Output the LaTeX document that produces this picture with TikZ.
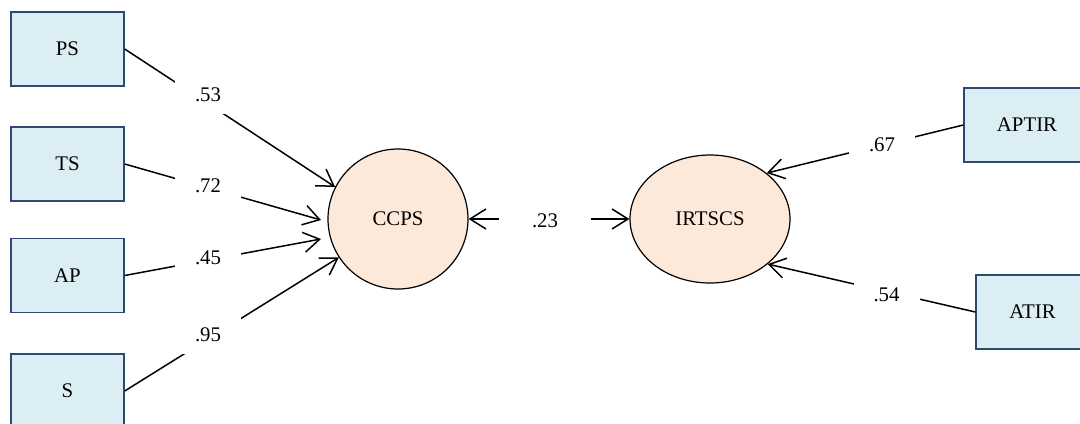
\documentclass[tikz,border=0pt]{standalone}
\usepackage{fontspec}
\setmainfont{Liberation Serif}
\usepackage{xcolor}
\usepackage{tikz}
\usetikzlibrary{calc, positioning, arrows.meta, shapes.geometric}
\definecolor{obsfill}{HTML}{DAEEF3}
\definecolor{obsdraw}{HTML}{2E4A72}
\definecolor{latfill}{HTML}{FDE9D9}
\tikzset{
    obs/.style={rectangle, draw=obsdraw, line width=0.7pt, fill=obsfill, minimum width=56.5pt, minimum height=37pt, align=center, font=\fontsize{10.4}{12}\selectfont},
    latent/.style={ellipse, draw=black, line width=0.6pt, fill=latfill, inner sep=0pt, font=\fontsize{10.4}{12}\selectfont},
    coef/.style={rectangle, fill=white, inner sep=0pt, minimum width=33pt, minimum height=19pt, font=\fontsize{10.4}{12}\selectfont},
    path/.style={line width=0.75pt, -{Straight Barb[length=8pt, width=10pt]}}
}
\begin{document}
\begin{tikzpicture}[x=0.5pt, y=-0.5pt]
    \useasboundingbox (0,0) rectangle (1080,423);

    % Indicators of CCPS
    \node[obs] (PS) at (67.5,49) {PS};
    \node[obs] (TS) at (67.5,164) {TS};
    \node[obs] (AP) at (67.5,275.5) {AP};
    \node[obs] (S)  at (67.5,391) {S};

    % Latent variables
    \node[latent, minimum width=70pt, minimum height=70pt] (CCPS) at (398,219) {CCPS};
    \node[latent, minimum width=80pt, minimum height=64pt] (IRTSCS) at (710,219) {IRTSCS};

    % Indicators of IRTSCS
    \node[obs, minimum width=63pt] (APTIR) at (1027,125) {APTIR};
    \node[obs] (ATIR) at (1032.5,312) {ATIR};

    \coordinate (inTS) at (321,220);
    \coordinate (inAP) at (321,239);

    % Paths
    \draw[path] (PS.east) -- (CCPS.153);
    \draw[path] (TS.east) -- (inTS);
    \draw[path] (AP.east) -- (inAP);
    \draw[path] (S.east) -- (CCPS.213);
    \draw[path] (APTIR.west) -- (IRTSCS.39);
    \draw[path] (ATIR.west) -- (IRTSCS.-38);
    \draw[path, {Straight Barb[length=8pt, width=10pt]}-{Straight Barb[length=8pt, width=10pt]}] (CCPS) -- (IRTSCS);

    % Loadings
    \node[coef] (c53) at (208,95) {.53};
    \node[coef] (c72) at (208,185.5) {.72};
    \node[coef] (c45) at (208,257.5) {.45};
    \node[coef] (c95) at (208,335) {.95};
    \node[coef, minimum width=46pt] (c23) at (545,221) {.23};
    \node[coef] (c67) at (882,145) {.67};
    \node[coef] (c54) at (886.5,294.5) {.54};
\end{tikzpicture}
\end{document}
